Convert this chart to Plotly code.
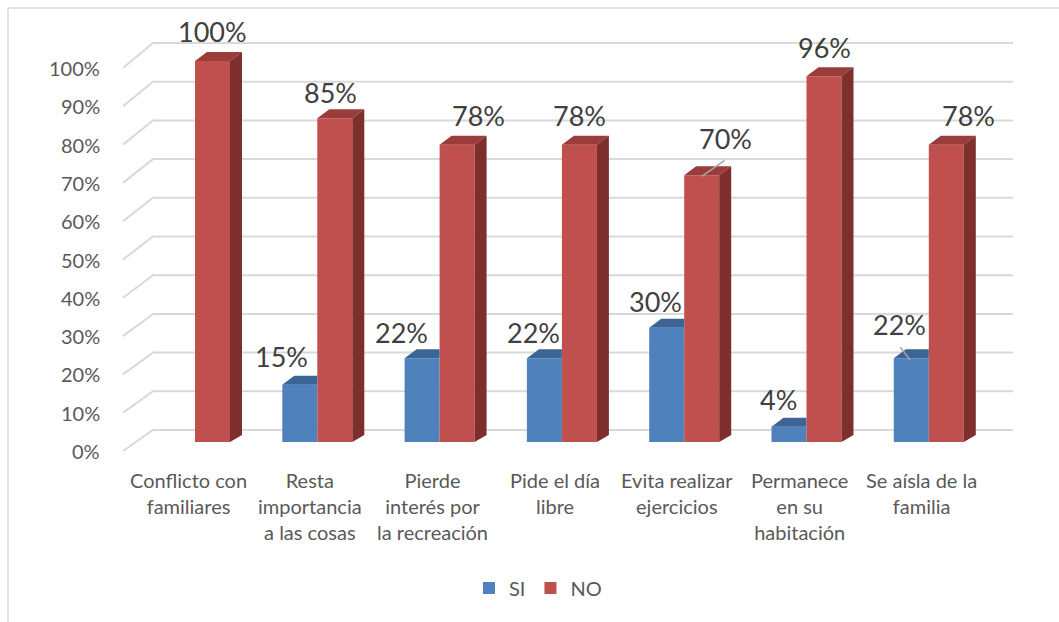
import plotly.graph_objects as go

# ---------------- data ----------------
categories = [
    "Conflicto con<br>familiares",
    "Resta<br>importancia<br>a las cosas",
    "Pierde<br>interés por<br>la recreación",
    "Pide el día<br>libre",
    "Evita realizar<br>ejercicios",
    "Permanece<br>en su<br>habitación",
    "Se aísla de la<br>familia",
]
si_values = [0, 15, 22, 22, 30, 4, 22]
no_values = [100, 85, 78, 78, 70, 96, 78]
tick_values = [0, 10, 20, 30, 40, 50, 60, 70, 80, 90, 100]
tick_labels = [f"{v}%" for v in tick_values]
series_names = ["SI", "NO"]

# ---------------- styling / layout (pixel calibration) ----------------
W_PX, H_PX = 1059, 622
PL, PR, PT, PB = 60, 1030, 10, 500          # plot area in px
X0_PX, X_STEP = 195.0, 122.3                # px of category 0 centre, px per category
Y0_PX, Y_STEP = 442.0, 3.81                 # px of 0 %, px per 1 %

def px2x(p):
    return (p - X0_PX) / X_STEP

def px2y(p):
    return (Y0_PX - p) / Y_STEP

xr = [px2x(PL), px2x(PR)]
yr = [px2y(PB), px2y(PT)]

BAR_W = 35 / X_STEP
DX = 12 / X_STEP
DY_TOP = 9 / Y_STEP
DY_BOT = 7 / Y_STEP

BLUE, BLUE_TOP = "#4F81BD", "#3C6596"
RED, RED_TOP, RED_SIDE = "#C0504D", "#9A3D3A", "#7D2F2D"
GRID = "#D9D9D9"
TXT = "#595959"
LBL = "#404040"
FONT = "Lato"

pos = list(range(len(categories)))

fig = go.Figure()

# front faces
fig.add_trace(go.Bar(x=pos, y=si_values, width=BAR_W, offset=-BAR_W, name=series_names[0],
                     marker=dict(color=BLUE, line=dict(width=0)), hoverinfo="skip"))
fig.add_trace(go.Bar(x=pos, y=no_values, width=BAR_W, offset=0, name=series_names[1],
                     marker=dict(color=RED, line=dict(width=0)), hoverinfo="skip"))

# blue top faces (visible part only, right part hidden by red bar)
bx, by = [], []
for i, v in zip(pos, si_values):
    if v <= 0:
        continue
    bx += [i - BAR_W, i, i, i - BAR_W + DX, i - BAR_W, None]
    by += [v, v, v + DY_TOP, v + DY_TOP, v, None]
fig.add_trace(go.Scatter(x=bx, y=by, mode="lines", fill="toself", fillcolor=BLUE_TOP,
                         line=dict(width=0, color=BLUE_TOP), showlegend=False, hoverinfo="skip"))

# red top and side faces
tx, ty, sx, sy = [], [], [], []
for i, v in zip(pos, no_values):
    tx += [i, i + BAR_W, i + BAR_W + DX, i + DX, i, None]
    ty += [v, v, v + DY_TOP, v + DY_TOP, v, None]
    sx += [i + BAR_W, i + BAR_W + DX, i + BAR_W + DX, i + BAR_W, i + BAR_W, None]
    sy += [v, v + DY_TOP, DY_BOT, 0, v, None]
fig.add_trace(go.Scatter(x=tx, y=ty, mode="lines", fill="toself", fillcolor=RED_TOP,
                         line=dict(width=0, color=RED_TOP), showlegend=False, hoverinfo="skip"))
fig.add_trace(go.Scatter(x=sx, y=sy, mode="lines", fill="toself", fillcolor=RED_SIDE,
                         line=dict(width=0, color=RED_SIDE), showlegend=False, hoverinfo="skip"))

shapes = []
annotations = []

# back gridlines with diagonal to the labels
for v, t in zip(tick_values, tick_labels):
    y_back = px2y(430 - 3.87 * v)
    y_lab = px2y(451 - 3.83 * v)
    path = (f"M {px2x(123)},{y_lab} L {px2x(153)},{y_back} L {px2x(1013)},{y_back}")
    shapes.append(dict(type="path", path=path, xref="x", yref="y", layer="below",
                       line=dict(color=GRID, width=2)))
    annotations.append(dict(x=px2x(102), y=y_lab, xref="x", yref="y", text=t, showarrow=False,
                            xanchor="right", yanchor="middle",
                            font=dict(family=FONT, size=20, color=TXT)))

# category labels
for i, c in zip(pos, categories):
    annotations.append(dict(x=i - 7 / X_STEP, y=px2y(466), xref="x", yref="y", text=c,
                            showarrow=False, xanchor="center", yanchor="top", align="center",
                            font=dict(family=FONT, size=20, color=TXT)))

# data labels (pixel nudges as Excel placed them)
no_shift = [(0, 30), (-4, 26), (21, 29), (0, 29), (24, 37), (0, 29), (22, 29)]
si_shift = [(0, 28), (-18, 28), (-21, 26), (-11, 26), (-11, 26), (-11, 27), (-12, 34)]
for i, v, (sx_, sy_) in zip(pos, no_values, no_shift):
    annotations.append(dict(x=i + BAR_W / 2, y=v, xref="x", yref="y", text=f"{v}%",
                            showarrow=False, xshift=sx_, yshift=sy_,
                            xanchor="center", yanchor="middle",
                            font=dict(family=FONT, size=27, color=LBL)))
for i, v, (sx_, sy_) in zip(pos, si_values, si_shift):
    if v <= 0:
        continue
    annotations.append(dict(x=i - BAR_W / 2, y=v, xref="x", yref="y", text=f"{v}%",
                            showarrow=False, xshift=sx_, yshift=sy_,
                            xanchor="center", yanchor="middle",
                            font=dict(family=FONT, size=27, color=LBL)))

# leader lines
shapes.append(dict(type="line", xref="x", yref="y", xsizemode="pixel", ysizemode="pixel",
                   xanchor=4 + BAR_W / 2, yanchor=no_values[4], x0=0, y0=-1, x1=23, y1=15,
                   line=dict(color="#A6A6A6", width=1.5)))
shapes.append(dict(type="line", xref="x", yref="y", xsizemode="pixel", ysizemode="pixel",
                   xanchor=6 - BAR_W / 2, yanchor=si_values[6], x0=-1, y0=-2, x1=-11, y1=11,
                   line=dict(color="#A6A6A6", width=1.5)))

# chart border (top and left)
shapes.append(dict(type="line", xref="paper", yref="paper",
                   x0=(8 - PL) / (PR - PL), x1=1.2, y0=(PB - 8) / (PB - PT), y1=(PB - 8) / (PB - PT),
                   line=dict(color=GRID, width=1.5), layer="below"))
shapes.append(dict(type="line", xref="paper", yref="paper",
                   x0=(8 - PL) / (PR - PL), x1=(8 - PL) / (PR - PL), y0=(PB - 8) / (PB - PT), y1=-0.5,
                   line=dict(color=GRID, width=1.5), layer="below"))

fig.update_layout(
    width=W_PX, height=H_PX,
    margin=dict(l=PL, r=W_PX - PR, t=PT, b=H_PX - PB),
    paper_bgcolor="white", plot_bgcolor="rgba(0,0,0,0)",
    barmode="overlay",
    xaxis=dict(range=xr, visible=False, fixedrange=True),
    yaxis=dict(range=yr, visible=False, fixedrange=True),
    shapes=shapes, annotations=annotations,
    showlegend=True,
    legend=dict(orientation="h", x=(538 - PL) / (PR - PL), xanchor="center",
                y=(PB - 588) / (PB - PT), yanchor="middle",
                font=dict(family=FONT, size=20, color=TXT), bgcolor="rgba(0,0,0,0)",
                itemclick=False, itemdoubleclick=False),
    font=dict(family=FONT),
)

fig.write_html("out.html")
